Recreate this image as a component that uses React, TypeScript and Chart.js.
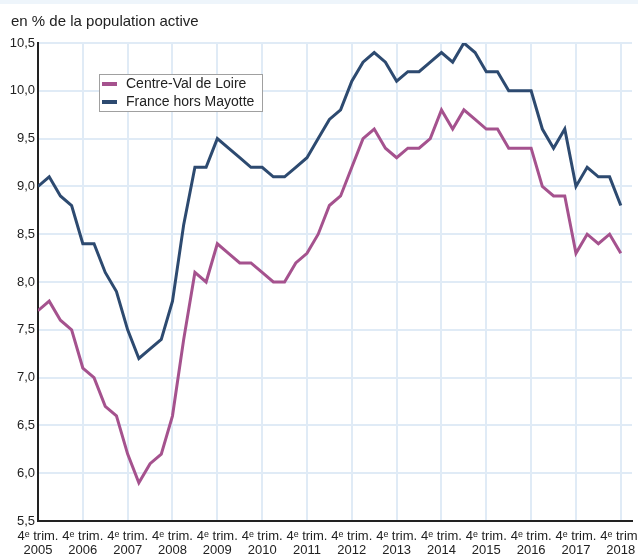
import React, { useEffect, useRef } from "react";
import { Chart, registerables } from "chart.js";

Chart.register(...registerables);

const yearLabels = ["2005", "2006", "2007", "2008", "2009", "2010", "2011", "2012", "2013", "2014", "2015", "2016", "2017", "2018"];
const quarterLabel = "4ᵉ trim.";
const yTicks = [5.5, 6.0, 6.5, 7.0, 7.5, 8.0, 8.5, 9.0, 9.5, 10.0, 10.5];

// Quarterly values, 2005 Q4 -> 2018 Q4
const centreValDeLoire = [
  7.7, 7.8, 7.6, 7.5, 7.1, 7.0, 6.7, 6.6, 6.2, 5.9, 6.1, 6.2, 6.6, 7.4, 8.1, 8.0,
  8.4, 8.3, 8.2, 8.2, 8.1, 8.0, 8.0, 8.2, 8.3, 8.5, 8.8, 8.9, 9.2, 9.5, 9.6, 9.4,
  9.3, 9.4, 9.4, 9.5, 9.8, 9.6, 9.8, 9.7, 9.6, 9.6, 9.4, 9.4, 9.4, 9.0, 8.9, 8.9,
  8.3, 8.5, 8.4, 8.5, 8.3,
];
const franceHorsMayotte = [
  9.0, 9.1, 8.9, 8.8, 8.4, 8.4, 8.1, 7.9, 7.5, 7.2, 7.3, 7.4, 7.8, 8.6, 9.2, 9.2,
  9.5, 9.4, 9.3, 9.2, 9.2, 9.1, 9.1, 9.2, 9.3, 9.5, 9.7, 9.8, 10.1, 10.3, 10.4, 10.3,
  10.1, 10.2, 10.2, 10.3, 10.4, 10.3, 10.5, 10.4, 10.2, 10.2, 10.0, 10.0, 10.0, 9.6, 9.4, 9.6,
  9.0, 9.2, 9.1, 9.1, 8.8,
];

const seriesNames = ["Centre-Val de Loire", "France hors Mayotte"];
const seriesColors = ["#a5528e", "#2d4a70"];
const titleText = "en % de la population active";

const FONT = "'Liberation Sans', Arial, Helvetica, sans-serif";

export default function App() {
  const ref = useRef<HTMLCanvasElement | null>(null);

  useEffect(() => {
    document.body.style.margin = "0";
    const canvas = ref.current!;
    const toPoints = (arr: number[]) => arr.map((v, i) => ({ x: i, y: v }));
    const tickValues = yearLabels.map((_, i) => i * 4);

    const decor = {
      id: "decor",
      beforeDraw(chart: any) {
        const ctx = chart.ctx;
        ctx.save();
        ctx.fillStyle = "#ffffff";
        ctx.fillRect(0, 0, chart.width, chart.height);
        ctx.fillStyle = "#eef5fb";
        ctx.fillRect(0, 0, chart.width, 4);
        ctx.fillStyle = "#222";
        ctx.font = `15px ${FONT}`;
        ctx.textBaseline = "alphabetic";
        ctx.textAlign = "left";
        ctx.fillText(titleText, 11, 26);
        ctx.restore();
      },
      afterDraw(chart: any) {
        const ctx = chart.ctx;
        ctx.save();
        ctx.fillStyle = "#ffffff";
        ctx.strokeStyle = "#a0a0a0";
        ctx.lineWidth = 1;
        ctx.fillRect(99.5, 74.5, 163, 37);
        ctx.strokeRect(99.5, 74.5, 163, 37);
        const rows = [84, 102];
        ctx.font = `14px ${FONT}`;
        ctx.textBaseline = "middle";
        ctx.textAlign = "left";
        seriesNames.forEach((name, i) => {
          ctx.strokeStyle = seriesColors[i];
          ctx.lineWidth = 4;
          ctx.beginPath();
          ctx.moveTo(102, rows[i]);
          ctx.lineTo(117, rows[i]);
          ctx.stroke();
          ctx.fillStyle = "#222";
          ctx.fillText(name, 126, rows[i] + 0.5);
        });
        ctx.restore();
      },
    };

    const chart = new Chart(canvas, {
      type: "line",
      data: {
        datasets: [
          {
            label: seriesNames[0],
            data: toPoints(centreValDeLoire),
            borderColor: seriesColors[0],
            backgroundColor: seriesColors[0],
            borderWidth: 3,
            pointRadius: 0,
            tension: 0,
          },
          {
            label: seriesNames[1],
            data: toPoints(franceHorsMayotte),
            borderColor: seriesColors[1],
            backgroundColor: seriesColors[1],
            borderWidth: 3,
            pointRadius: 0,
            tension: 0,
          },
        ],
      },
      options: {
        animation: false,
        responsive: false,
        maintainAspectRatio: false,
        layout: { padding: { top: 43, right: 6, bottom: 0, left: 0 } },
        plugins: {
          legend: { display: false },
          tooltip: { enabled: false },
          title: { display: false },
        },
        scales: {
          x: {
            type: "linear",
            min: 0,
            max: 53,
            afterBuildTicks(scale: any) {
              scale.ticks = tickValues.map((v) => ({ value: v }));
            },
            afterFit(scale: any) {
              scale.height = 34;
              scale.paddingLeft = 0;
              scale.paddingRight = 0;
            },
            ticks: {
              autoSkip: false,
              maxRotation: 0,
              minRotation: 0,
              padding: 9,
              color: "#222",
              font: { family: FONT, size: 13, lineHeight: 1.03 },
              callback: (v: any) => {
                const idx = Math.round(Number(v) / 4);
                return [quarterLabel, yearLabels[idx] ?? ""];
              },
            },
            grid: { color: "#e0ebf6", lineWidth: 2, drawTicks: false },
            border: { color: "#222", width: 2 },
          },
          y: {
            type: "linear",
            min: 5.5,
            max: 10.5,
            afterBuildTicks(scale: any) {
              scale.ticks = yTicks.map((v) => ({ value: v }));
            },
            afterFit(scale: any) {
              scale.width = 38;
              scale.paddingTop = 0;
              scale.paddingBottom = 0;
            },
            ticks: {
              padding: 3,
              color: "#222",
              font: { family: FONT, size: 13 },
              callback: (v: any) => Number(v).toFixed(1).replace(".", ","),
            },
            grid: { color: "#e0ebf6", lineWidth: 2, drawTicks: false },
            border: { color: "#222", width: 2 },
          },
        },
      },
      plugins: [decor],
    } as any);

    return () => chart.destroy();
  }, []);

  return (
    <div style={{ width: 638, height: 555 }}>
      <canvas ref={ref} width={638} height={555} style={{ display: "block", width: 638, height: 555 }} />
    </div>
  );
}
